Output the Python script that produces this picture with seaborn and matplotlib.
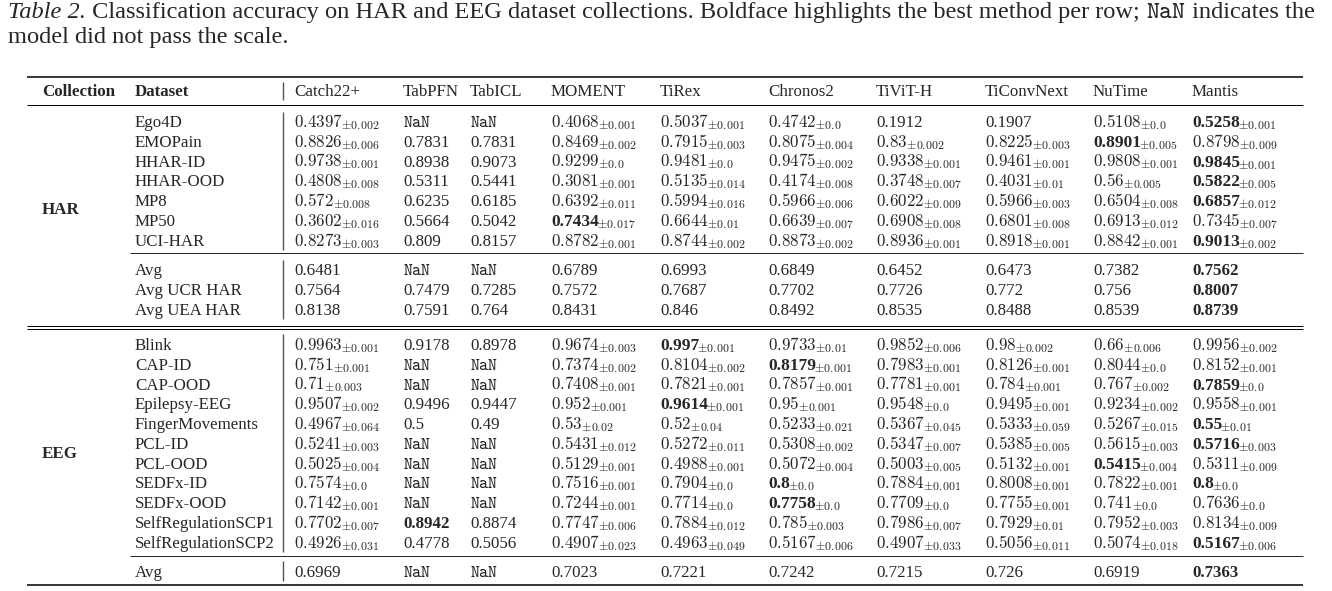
import matplotlib
matplotlib.use("Agg")
import matplotlib.pyplot as plt
import seaborn as sns

sns.set_theme(style="white")
plt.rcParams['font.family'] = ['Liberation Serif', 'DejaVu Serif']
plt.rcParams['mathtext.fontset'] = 'cm'

METHODS = ['Catch22+', 'TabPFN', 'TabICL', 'MOMENT', 'TiRex', 'Chronos2',
           'TiViT-H', 'TiConvNext', 'NuTime', 'Mantis']

# HAR collection (None = NaN, std None = no std reported)
HAR_DATASETS = ['Ego4D', 'EMOPain', 'HHAR-ID', 'HHAR-OOD', 'MP8', 'MP50', 'UCI-HAR']
HAR_MEAN = [
    [0.4397, None, None, 0.4068, 0.5037, 0.4742, 0.1912, 0.1907, 0.5108, 0.5258],
    [0.8826, 0.7831, 0.7831, 0.8469, 0.7915, 0.8075, 0.83, 0.8225, 0.8901, 0.8798],
    [0.9738, 0.8938, 0.9073, 0.9299, 0.9481, 0.9475, 0.9338, 0.9461, 0.9808, 0.9845],
    [0.4808, 0.5311, 0.5441, 0.3081, 0.5135, 0.4174, 0.3748, 0.4031, 0.56, 0.5822],
    [0.572, 0.6235, 0.6185, 0.6392, 0.5994, 0.5966, 0.6022, 0.5966, 0.6504, 0.6857],
    [0.3602, 0.5664, 0.5042, 0.7434, 0.6644, 0.6639, 0.6908, 0.6801, 0.6913, 0.7345],
    [0.8273, 0.809, 0.8157, 0.8782, 0.8744, 0.8873, 0.8936, 0.8918, 0.8842, 0.9013],
]
HAR_STD = [
    [0.002, None, None, 0.001, 0.001, 0.0, None, None, 0.0, 0.001],
    [0.006, None, None, 0.002, 0.003, 0.004, 0.002, 0.003, 0.005, 0.009],
    [0.001, None, None, 0.0, 0.0, 0.002, 0.001, 0.001, 0.001, 0.001],
    [0.008, None, None, 0.001, 0.014, 0.008, 0.007, 0.01, 0.005, 0.005],
    [0.008, None, None, 0.011, 0.016, 0.006, 0.009, 0.003, 0.008, 0.012],
    [0.016, None, None, 0.017, 0.01, 0.007, 0.008, 0.008, 0.012, 0.007],
    [0.003, None, None, 0.001, 0.002, 0.002, 0.001, 0.001, 0.001, 0.002],
]
HAR_BOLD = [[9], [8], [9], [9], [9], [3], [9]]

HAR_AVG_LABELS = ['Avg', 'Avg UCR HAR', 'Avg UEA HAR']
HAR_AVG = [
    [0.6481, None, None, 0.6789, 0.6993, 0.6849, 0.6452, 0.6473, 0.7382, 0.7562],
    [0.7564, 0.7479, 0.7285, 0.7572, 0.7687, 0.7702, 0.7726, 0.772, 0.756, 0.8007],
    [0.8138, 0.7591, 0.764, 0.8431, 0.846, 0.8492, 0.8535, 0.8488, 0.8539, 0.8739],
]
HAR_AVG_BOLD = [[9], [9], [9]]

# EEG collection
EEG_DATASETS = ['Blink', 'CAP-ID', 'CAP-OOD', 'Epilepsy-EEG', 'FingerMovements', 'PCL-ID',
                'PCL-OOD', 'SEDFx-ID', 'SEDFx-OOD', 'SelfRegulationSCP1', 'SelfRegulationSCP2']
EEG_MEAN = [
    [0.9963, 0.9178, 0.8978, 0.9674, 0.997, 0.9733, 0.9852, 0.98, 0.66, 0.9956],
    [0.751, None, None, 0.7374, 0.8104, 0.8179, 0.7983, 0.8126, 0.8044, 0.8152],
    [0.71, None, None, 0.7408, 0.7821, 0.7857, 0.7781, 0.784, 0.767, 0.7859],
    [0.9507, 0.9496, 0.9447, 0.952, 0.9614, 0.95, 0.9548, 0.9495, 0.9234, 0.9558],
    [0.4967, 0.5, 0.49, 0.53, 0.52, 0.5233, 0.5367, 0.5333, 0.5267, 0.55],
    [0.5241, None, None, 0.5431, 0.5272, 0.5308, 0.5347, 0.5385, 0.5615, 0.5716],
    [0.5025, None, None, 0.5129, 0.4988, 0.5072, 0.5003, 0.5132, 0.5415, 0.5311],
    [0.7574, None, None, 0.7516, 0.7904, 0.8, 0.7884, 0.8008, 0.7822, 0.8],
    [0.7142, None, None, 0.7244, 0.7714, 0.7758, 0.7709, 0.7755, 0.741, 0.7636],
    [0.7702, 0.8942, 0.8874, 0.7747, 0.7884, 0.785, 0.7986, 0.7929, 0.7952, 0.8134],
    [0.4926, 0.4778, 0.5056, 0.4907, 0.4963, 0.5167, 0.4907, 0.5056, 0.5074, 0.5167],
]
EEG_STD = [
    [0.001, None, None, 0.003, 0.001, 0.01, 0.006, 0.002, 0.006, 0.002],
    [0.001, None, None, 0.002, 0.002, 0.001, 0.001, 0.001, 0.0, 0.001],
    [0.003, None, None, 0.001, 0.001, 0.001, 0.001, 0.001, 0.002, 0.0],
    [0.002, None, None, 0.001, 0.001, 0.001, 0.0, 0.001, 0.002, 0.001],
    [0.064, None, None, 0.02, 0.04, 0.021, 0.045, 0.059, 0.015, 0.01],
    [0.003, None, None, 0.012, 0.011, 0.002, 0.007, 0.005, 0.003, 0.003],
    [0.004, None, None, 0.001, 0.001, 0.004, 0.005, 0.001, 0.004, 0.009],
    [0.0, None, None, 0.001, 0.0, 0.0, 0.001, 0.001, 0.001, 0.0],
    [0.001, None, None, 0.001, 0.0, 0.0, 0.0, 0.001, 0.0, 0.0],
    [0.007, None, None, 0.006, 0.012, 0.003, 0.007, 0.01, 0.003, 0.009],
    [0.031, None, None, 0.023, 0.049, 0.006, 0.033, 0.011, 0.018, 0.006],
]
EEG_BOLD = [[4], [5], [9], [4], [9], [9], [8], [5, 9], [5], [1], [9]]

EEG_AVG_LABELS = ['Avg']
EEG_AVG = [[0.6969, None, None, 0.7023, 0.7221, 0.7242, 0.7215, 0.726, 0.6919, 0.7363]]
EEG_AVG_BOLD = [[9]]

# layout (pixel units, y grows downwards)
W, H = 1332, 591
FS = 12.2
X_COLL, X_DATA, X_SEP = 42, 135, 283
X_COLS = [294, 403, 470, 551, 660, 768, 876, 985, 1093, 1192]
RULE_L, RULE_R, MID_L = 27, 1303, 130
STEP = 19.8
BASE = 5.5  # baseline offset from row centre
SEP_COLOR = '#555555'

fig = plt.figure(figsize=(W / 100, H / 100), dpi=100)
ax = fig.add_axes([0, 0, 1, 1])
ax.set_xlim(0, W)
ax.set_ylim(H, 0)
ax.axis('off')
renderer = fig.canvas.get_renderer()


def draw_cell(x, y, mean, std, bold):
    yb = y + BASE
    if mean is None:
        ax.text(x, yb, r'$\mathtt{NaN}$', fontsize=FS, color='#222222', va='baseline')
    elif std is None:
        ax.text(x, yb, str(mean), fontsize=FS, va='baseline',
                fontweight='bold' if bold else 'normal')
    elif bold:
        t = ax.text(x, yb, str(mean), fontsize=FS + 0.3, fontweight='bold', va='baseline')
        w = t.get_window_extent(renderer).width
        ax.text(x + w - 2, yb, r'${}_{\pm %s}$' % std, fontsize=FS, va='baseline')
    else:
        ax.text(x, yb, r'$%s_{\pm %s}$' % (mean, std), fontsize=FS, va='baseline')


def draw_rows(y0, labels, means, stds, bolds):
    ys = []
    for i, label in enumerate(labels):
        y = y0 + i * STEP
        ys.append(y)
        ax.text(X_DATA, y + BASE, label, fontsize=FS, va='baseline')
        for j, x in enumerate(X_COLS):
            std = stds[i][j] if stds is not None else None
            draw_cell(x, y, means[i][j], std, j in bolds[i])
    ax.vlines(X_SEP, ys[0] - 10, ys[-1] + 10, color=SEP_COLOR, lw=1.0)
    return ys


# caption, laid out piece by piece and fitted to the line width
pieces = [('Table 2.', dict(style='italic')),
          (' Classification accuracy on HAR and EEG dataset collections. '
           'Boldface highlights the best method per row; ', {}),
          (r'$\mathtt{NaN}$', dict(color='#222222')),
          (' indicates the', {})]


def caption_line(fs, draw=True):
    x = 8
    made = []
    for txt, kw in pieces:
        opts = dict(fontsize=fs, va='baseline')
        opts.update(kw)
        t = ax.text(x, 18, txt.replace(' ', '\u00a0'), **opts)
        x += t.get_window_extent(renderer).width
        made.append(t)
    if not draw:
        for t in made:
            t.remove()
    return x - 8


trial = 14.0
TITLE_FS = trial * 1312 / caption_line(trial, draw=False)
caption_line(TITLE_FS)
ax.text(8, 43, 'model did not pass the scale.', fontsize=TITLE_FS, va='baseline')

# header
ax.hlines(77, RULE_L, RULE_R, color='black', lw=1.1)
ax.text(X_COLL, 91 + BASE, 'Collection', fontsize=FS, fontweight='bold', va='baseline')
ax.text(X_DATA, 91 + BASE, 'Dataset', fontsize=FS, fontweight='bold', va='baseline')
for name, x in zip(METHODS, X_COLS):
    ax.text(x, 91 + BASE, name, fontsize=FS, va='baseline')
ax.vlines(X_SEP, 82, 100, color=SEP_COLOR, lw=1.0)
ax.hlines(105, RULE_L, RULE_R, color='black', lw=0.7)

# HAR block
har_ys = draw_rows(121.5, HAR_DATASETS, HAR_MEAN, HAR_STD, HAR_BOLD)
ax.hlines(har_ys[-1] + 12.7, MID_L, RULE_R, color='black', lw=0.6)
avg_ys = draw_rows(har_ys[-1] + 29.5, HAR_AVG_LABELS, HAR_AVG, None, HAR_AVG_BOLD)
ax.text(X_COLL, 209 + BASE, 'HAR', fontsize=FS, fontweight='bold', va='baseline')

# double rule between collections
y_dr = avg_ys[-1] + 16.5
ax.hlines([y_dr, y_dr + 3.5], RULE_L, RULE_R, color='black', lw=0.7)

# EEG block
eeg_ys = draw_rows(y_dr + 18.5, EEG_DATASETS, EEG_MEAN, EEG_STD, EEG_BOLD)
ax.hlines(eeg_ys[-1] + 14, MID_L, RULE_R, color='black', lw=0.6)
eeg_avg_ys = draw_rows(eeg_ys[-1] + 29, EEG_AVG_LABELS, EEG_AVG, None, EEG_AVG_BOLD)
ax.text(X_COLL, 452 + BASE, 'EEG', fontsize=FS, fontweight='bold', va='baseline')
ax.hlines(eeg_avg_ys[-1] + 14, RULE_L, RULE_R, color='black', lw=1.1)

fig.savefig('out.png', dpi=100)
plt.close(fig)
